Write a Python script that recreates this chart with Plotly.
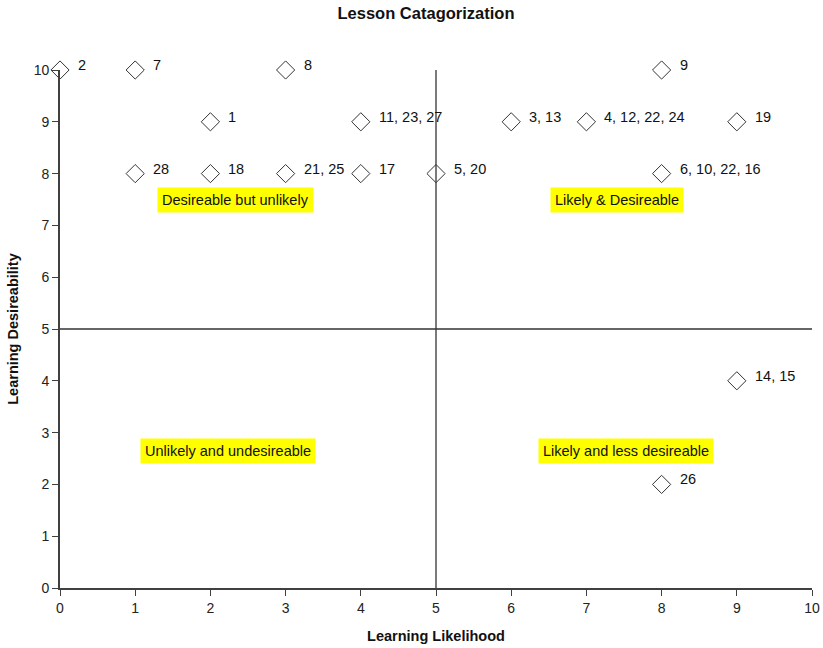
import plotly.graph_objects as go

# Data: lesson positions (Learning Likelihood, Learning Desireability) and their labels
likelihood = [0, 1, 3, 8, 2, 4, 6, 7, 9, 1, 2, 3, 4, 5, 8, 9, 8]
desireability = [10, 10, 10, 10, 9, 9, 9, 9, 9, 8, 8, 8, 8, 8, 8, 4, 2]
lesson_labels = ["2", "7", "8", "9", "1", "11, 23, 27", "3, 13", "4, 12, 22, 24", "19",
                 "28", "18", "21, 25", "17", "5, 20", "6, 10, 22, 16", "14, 15", "26"]

quadrant_names = ["Desireable but unlikely", "Likely & Desireable",
                  "Unlikely and undesireable", "Likely and less desireable"]
quadrant_x = [2.33, 7.41, 2.23, 7.53]
quadrant_y = [7.5, 7.5, 2.65, 2.65]

tick_vals = list(range(0, 11))
split = 5

FONT = "Liberation Sans, Arial, sans-serif"
AXC = "#404040"

fig = go.Figure()
fig.add_trace(go.Scatter(
    x=likelihood, y=desireability, mode="markers",
    marker=dict(symbol="diamond-open", size=14, color="#333333", line=dict(width=1, color="#333333")),
    cliponaxis=False, showlegend=False, hoverinfo="skip"))

annotations = []
for x, y, t in zip(likelihood, desireability, lesson_labels):
    annotations.append(dict(x=x, y=y, text=t, showarrow=False, xanchor="left", yanchor="middle",
                            xshift=16, yshift=5, font=dict(family=FONT, size=14.5, color="#111111")))
for t, x, y in zip(quadrant_names, quadrant_x, quadrant_y):
    annotations.append(dict(x=x, y=y, text=t, showarrow=False, xanchor="center", yanchor="middle",
                            bgcolor="#ffff00", borderpad=4,
                            font=dict(family=FONT, size=14.5, color="#111111")))

shapes = [
    dict(type="line", xref="x", yref="y", x0=split, x1=split, y0=0, y1=10.1,
         line=dict(color="#333333", width=1.3), layer="below"),
    dict(type="line", xref="x", yref="y", x0=0, x1=10, y0=split, y1=split,
         line=dict(color="#333333", width=1.3), layer="below"),
]

fig.update_layout(
    width=823, height=648,
    margin=dict(l=60, r=11, t=70, b=60, autoexpand=False),
    paper_bgcolor="white", plot_bgcolor="white",
    font=dict(family=FONT, size=13, color="#222222"),
    title=dict(text="<b>Lesson Catagorization</b>", x=426 / 823, xref="container", xanchor="center",
               y=1 - 13 / 648, yref="container", yanchor="middle", pad=dict(t=0, b=0, l=0, r=0),
               automargin=False,
               font=dict(family=FONT, size=16.5, color="#111111")),
    annotations=annotations, shapes=shapes,
    xaxis=dict(range=[0, 10], tickvals=tick_vals, showgrid=False, zeroline=False, automargin=False,
               showline=True, linecolor=AXC, linewidth=1.6, ticks="outside", ticklen=6,
               tickcolor=AXC, tickfont=dict(family=FONT, size=14, color="#222222"),
               title=dict(text="<b>Learning Likelihood</b>", standoff=16,
                          font=dict(family=FONT, size=14.5, color="#111111"))),
    yaxis=dict(range=[0, 10], tickvals=tick_vals, showgrid=False, zeroline=False, automargin=False,
               showline=True, linecolor=AXC, linewidth=1.6, ticks="outside", ticklen=6,
               tickcolor=AXC, tickfont=dict(family=FONT, size=14, color="#222222"),
               title=dict(text="<b>Learning Desireability</b>", standoff=12,
                          font=dict(family=FONT, size=14.5, color="#111111"))),
)

fig.write_html("out.html", config={"displayModeBar": False},
               post_script="document.body.style.margin='0';")
